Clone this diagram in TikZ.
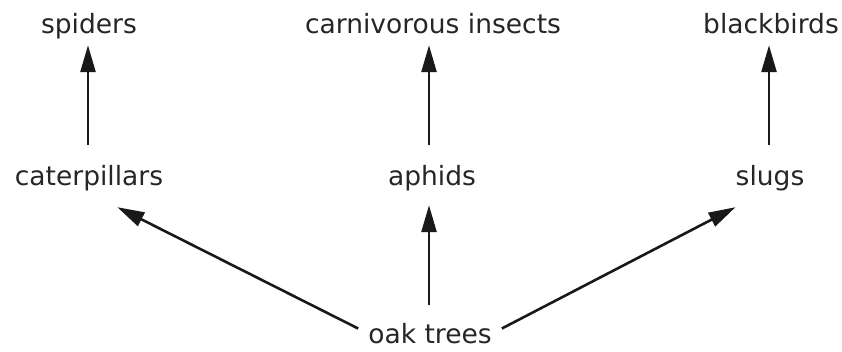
\documentclass[tikz,border=0pt]{standalone}
\usepackage{fontspec}
\setmainfont{DejaVu Sans}
\usetikzlibrary{arrows.meta,calc}
\begin{document}
\begin{tikzpicture}[x=1pt,y=-1pt,
  lbl/.style={font=\fontsize{26.5}{32}\selectfont, inner sep=0pt, text height=20pt, text depth=5pt, anchor=base, text=black!85},
  arr/.style={line width=2.6pt, -{Triangle[length=27pt,width=15pt]}, black!90}]
\useasboundingbox (0,0) rectangle (842,351);
\node[lbl] (spi) at (89,33) {spiders};
\node[lbl] (car) at (433,33) {carnivorous insects};
\node[lbl] (bla) at (771,33) {blackbirds};
\node[lbl] (cat) at (89,185) {caterpillars};
\node[lbl] (aph) at (432,185) {aphids};
\node[lbl] (slu) at (770,185) {slugs};
\node[lbl] (oak) at (430,343) {oak trees};
\draw[arr] ($(cat.north)+(-1,-20)$) -- ($(spi.south)+(-1,7)$);
\draw[arr] ($(aph.north)+(-3,-20)$) -- ($(car.south)+(-4,7)$);
\draw[arr] ($(slu.north)+(-1,-20)$) -- ($(bla.south)+(-2,7)$);
\draw[arr] ($(oak.north)+(-1,-18)$) -- ($(aph.south)+(-3,15)$);
\draw[arr] ($(oak.west)+(-10,-7)$) -- ($(cat.south east)+(-46,17)$);
\draw[arr] ($(oak.east)+(10,-7)$) -- ($(slu.south west)+(0,17)$);
\end{tikzpicture}
\end{document}
